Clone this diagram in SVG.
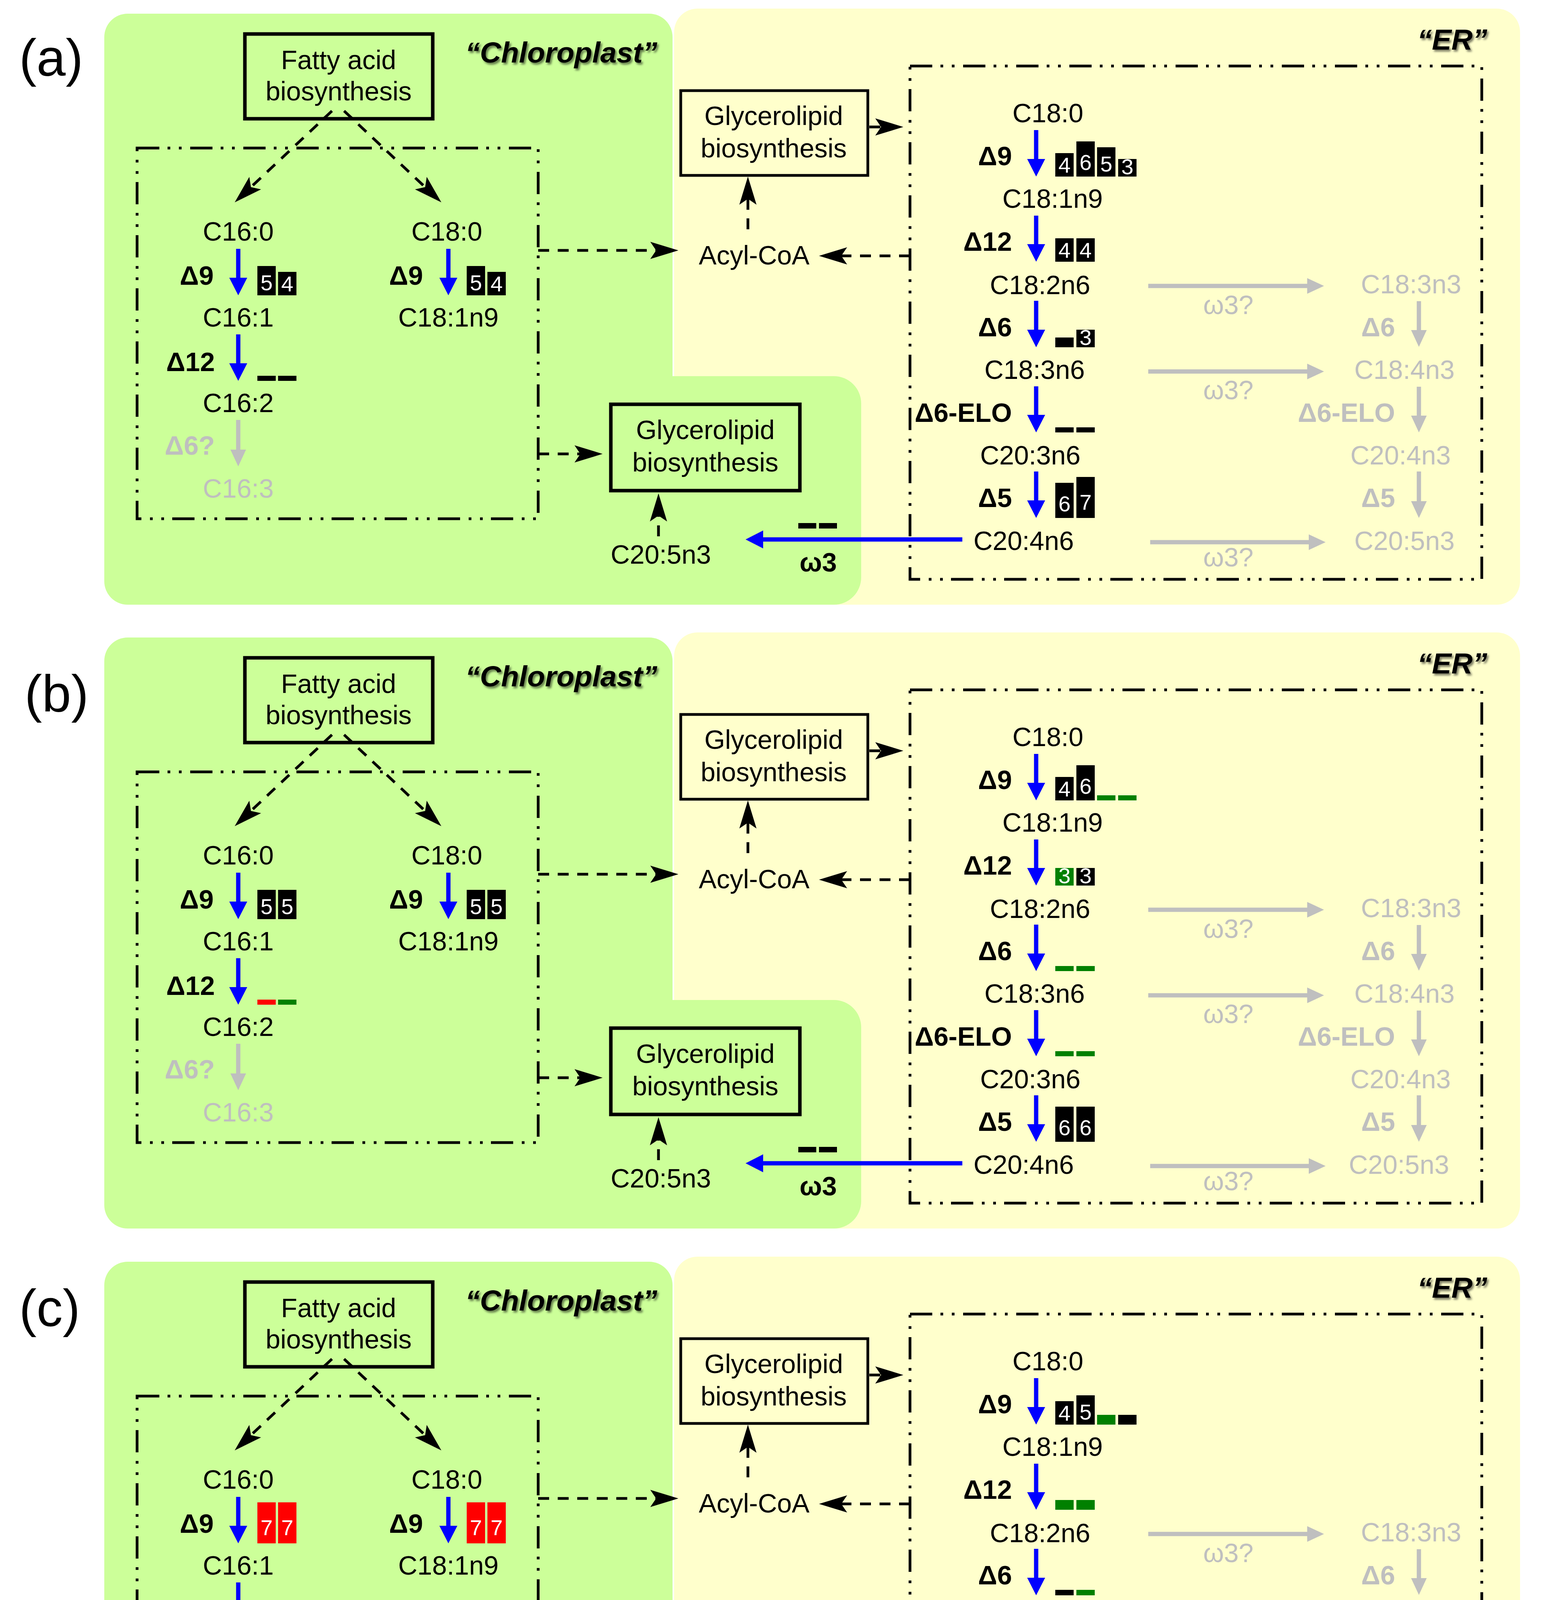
<svg xmlns="http://www.w3.org/2000/svg" width="3961" height="4811" viewBox="0 0 3961 4811">
<defs>
<style>
.ye{fill:#FFFFCC}
.gr{fill:#CCFF99}
.t{font-family:"Liberation Sans",Arial,sans-serif;font-size:68px;fill:#000}
.c{text-anchor:middle}
.e{text-anchor:end}
.b{font-weight:bold}
.gy{fill:#BFBFBF}
.lbl{font-size:134px}
.ttl{font-weight:bold;font-style:italic;font-size:75px;text-anchor:end;filter:url(#sh)}
.n{font-family:"Liberation Sans",Arial,sans-serif;font-size:56px;fill:#fff;text-anchor:middle}
.bx{fill:none;stroke:#000;stroke-width:9}
.bx2{fill:none;stroke:#000;stroke-width:7}
.dd{fill:none;stroke:#000;stroke-width:7;stroke-dasharray:57 21 7 22 7 22}
.da{fill:none;stroke:#000;stroke-width:7;stroke-dasharray:28 22;marker-end:url(#st)}
.bl{fill:none;stroke:#0000FF;stroke-width:11;marker-end:url(#ab)}
.ga{fill:none;stroke:#BFBFBF;stroke-width:11;marker-end:url(#ag)}
.k{fill:#000}
.g{fill:#008000}
.r{fill:#FF0000}
</style>
<filter id="sh" x="-10%" y="-40%" width="125%" height="190%">
<feDropShadow dx="4" dy="5" stdDeviation="2.5" flood-color="#000" flood-opacity="0.5"/>
</filter>
<marker id="st" markerUnits="userSpaceOnUse" viewBox="0 0 72 44" markerWidth="72" markerHeight="44" refX="15" refY="22" orient="auto" overflow="visible">
<path d="M0,0 L72,22 L0,44 L15,22 Z" fill="#000"/>
</marker>
<marker id="ab" markerUnits="userSpaceOnUse" viewBox="0 0 46 48" markerWidth="46" markerHeight="48" refX="0" refY="24" orient="auto" overflow="visible">
<path d="M0,1 L45,24 L0,47 Z" fill="#0000FF"/>
</marker>
<marker id="ag" markerUnits="userSpaceOnUse" viewBox="0 0 44 48" markerWidth="44" markerHeight="48" refX="0" refY="24" orient="auto" overflow="visible">
<path d="M0,4 L43,24 L0,44 Z" fill="#BFBFBF"/>
</marker>
</defs>
<rect x="0" y="0" width="3961" height="4811" fill="#fff"/>

<!-- ================= PANEL A ================= -->
<g id="panel-a">
<g id="a-compartments">
<rect class="ye" x="1726" y="22" width="2166" height="1526" rx="60"/>
<rect class="gr" x="267" y="35" width="1455" height="1513" rx="60"/>
<rect class="gr" x="1500" y="963" width="705" height="585" rx="70"/>
<text class="t lbl" x="49" y="194">(a)</text>
<text class="t ttl" x="1683" y="160">“Chloroplast”</text>
<text class="t ttl" x="3808" y="127">“ER”</text>
<rect class="dd" x="351" y="379" width="1027" height="949"/>
<rect class="dd" x="2330" y="169" width="1464" height="1314"/>
</g>
<g id="a-fatty"><rect class="bx" x="627" y="87" width="481" height="217"/><text class="t c" x="867" y="177">Fatty acid</text><text class="t c" x="867" y="257">biosynthesis</text></g>
<g id="a-glyc-er"><rect class="bx2" x="1743" y="232" width="479" height="217"/><text class="t c" x="1981" y="320">Glycerolipid</text><text class="t c" x="1981" y="403">biosynthesis</text></g>
<g id="a-acylcoa"><text class="t c" x="1931" y="677">Acyl-CoA</text></g>
<g id="a-glyc-chl"><rect class="bx" x="1564" y="1035" width="484" height="221"/><text class="t c" x="1806" y="1124">Glycerolipid</text><text class="t c" x="1806" y="1207">biosynthesis</text></g>
<g id="a-c205n3-chl"><text class="t c" x="1692" y="1443">C20:5n3</text></g>
<g id="a-c160"><text class="t c" x="610" y="616">C16:0</text></g>
<g id="a-c161"><text class="t c" x="610" y="836">C16:1</text></g>
<g id="a-c162"><text class="t c" x="610" y="1055">C16:2</text></g>
<g id="a-c163"><text class="t c gy" x="610" y="1274">C16:3</text></g>
<g id="a-c180-chl"><text class="t c" x="1144" y="616">C18:0</text></g>
<g id="a-c181-chl"><text class="t c" x="1148" y="836">C18:1n9</text></g>
<g id="a-c180"><text class="t c" x="2683" y="313">C18:0</text></g>
<g id="a-c181"><text class="t c" x="2695" y="532">C18:1n9</text></g>
<g id="a-c182"><text class="t c" x="2663" y="753">C18:2n6</text></g>
<g id="a-c183n6"><text class="t c" x="2649" y="970">C18:3n6</text></g>
<g id="a-c203n6"><text class="t c" x="2638" y="1189">C20:3n6</text></g>
<g id="a-c204n6"><text class="t c" x="2621" y="1408">C20:4n6</text></g>
<g id="a-c183n3"><text class="t c gy" x="3613" y="751">C18:3n3</text></g>
<g id="a-c184n3"><text class="t c gy" x="3596" y="970">C18:4n3</text></g>
<g id="a-c204n3"><text class="t c gy" x="3586" y="1189">C20:4n3</text></g>
<g id="a-c205n3"><text class="t c gy" x="3596" y="1408">C20:5n3</text></g>
<g id="a-connectors">
<path class="da" d="M850,284 L642.5,479"/>
<path class="da" d="M881,284 L1088.5,479"/>
<path class="da" d="M1378,641 H1680"/>
<path class="da" d="M1378,1162 H1486"/>
<path class="da" d="M1915,587 V509"/>
<path class="da" d="M2330,655 H2154"/>
<path class="da" d="M2226,325 H2256"/>
<path class="da" d="M1686,1373 V1320"/>
<path class="bl" d="M610,637 V711"/>
<path class="bl" d="M610,856 V930"/>
<path class="bl" d="M1148,637 V711"/>
<path class="ga" d="M610,1075 V1151"/>
<path class="bl" d="M2653,333 V407"/>
<path class="bl" d="M2653,552 V625"/>
<path class="bl" d="M2653,770 V844"/>
<path class="bl" d="M2653,989 V1062"/>
<path class="bl" d="M2653,1207 V1281"/>
<path class="bl" d="M2464,1381 H1954"/>
<path class="ga" d="M2940,732 H3347"/>
<path class="ga" d="M2940,951 H3347"/>
<path class="ga" d="M2945,1388 H3351"/>
<path class="ga" d="M3633,771 V845"/>
<path class="ga" d="M3633,990 V1064"/>
<path class="ga" d="M3633,1207 V1283"/>
</g>
<g id="a-enzymes">
<text class="t b e" x="547" y="729">Δ9</text>
<text class="t b e" x="550" y="950">Δ12</text>
<text class="t b e gy" x="550" y="1164">Δ6?</text>
<text class="t b e" x="1083" y="729">Δ9</text>
<text class="t b e" x="2591" y="423">Δ9</text>
<text class="t b e" x="2591" y="642">Δ12</text>
<text class="t b e" x="2591" y="861">Δ6</text>
<text class="t b e" x="2591" y="1080">Δ6-ELO</text>
<text class="t b e" x="2591" y="1298">Δ5</text>
<text class="t b c" x="2095" y="1463">ω3</text>
<text class="t b e gy" x="3572" y="861">Δ6</text>
<text class="t b e gy" x="3572" y="1080">Δ6-ELO</text>
<text class="t b e gy" x="3572" y="1298">Δ5</text>
<text class="t c gy" x="3145" y="804">ω3?</text>
<text class="t c gy" x="3145" y="1022">ω3?</text>
<text class="t c gy" x="3145" y="1450">ω3?</text>
</g>
<g id="a-bars">
<rect class="k" x="659" y="681" width="47" height="75"/><text class="n" x="682.5" y="743">5</text>
<rect class="k" x="712" y="696" width="47" height="60"/><text class="n" x="735.5" y="746">4</text>
<rect class="k" x="1195" y="681" width="47" height="75"/><text class="n" x="1218.5" y="743">5</text>
<rect class="k" x="1248" y="696" width="47" height="60"/><text class="n" x="1271.5" y="746">4</text>
<rect class="k" x="659" y="962" width="47" height="13"/><rect class="k" x="712" y="962" width="47" height="13"/>
<rect class="k" x="2702" y="392" width="47" height="60"/><text class="n" x="2725.5" y="442">4</text>
<rect class="k" x="2756" y="362" width="47" height="90"/><text class="n" x="2779.5" y="435">6</text>
<rect class="k" x="2809" y="377" width="47" height="75"/><text class="n" x="2832.5" y="439">5</text>
<rect class="k" x="2863" y="407" width="47" height="45"/><text class="n" x="2886.5" y="446">3</text>
<rect class="k" x="2702" y="610" width="47" height="60"/><text class="n" x="2725.5" y="660">4</text>
<rect class="k" x="2756" y="610" width="47" height="60"/><text class="n" x="2779.5" y="660">4</text>
<rect class="k" x="2702" y="864" width="47" height="25"/>
<rect class="k" x="2756" y="844" width="47" height="45"/><text class="n" x="2779.5" y="883">3</text>
<rect class="k" x="2702" y="1094" width="47" height="13"/><rect class="k" x="2756" y="1094" width="47" height="13"/>
<rect class="k" x="2702" y="1236" width="47" height="90"/><text class="n" x="2725.5" y="1309">6</text>
<rect class="k" x="2756" y="1221" width="47" height="105"/><text class="n" x="2779.5" y="1305">7</text>
<rect class="k" x="2044" y="1339" width="46" height="14"/><rect class="k" x="2097" y="1339" width="46" height="14"/>
</g>
</g>

<!-- ================= PANEL B ================= -->
<g id="panel-b">
<g id="b-compartments">
<rect class="ye" x="1726" y="1619" width="2166" height="1526" rx="60"/>
<rect class="gr" x="267" y="1632" width="1455" height="1513" rx="60"/>
<rect class="gr" x="1500" y="2560" width="705" height="585" rx="70"/>
<text class="t lbl" x="63" y="1822">(b)</text>
<text class="t ttl" x="1683" y="1757">“Chloroplast”</text>
<text class="t ttl" x="3808" y="1724">“ER”</text>
<rect class="dd" x="351" y="1976" width="1027" height="949"/>
<rect class="dd" x="2330" y="1766" width="1464" height="1314"/>
</g>
<g id="b-fatty"><rect class="bx" x="627" y="1684" width="481" height="217"/><text class="t c" x="867" y="1774">Fatty acid</text><text class="t c" x="867" y="1854">biosynthesis</text></g>
<g id="b-glyc-er"><rect class="bx2" x="1743" y="1829" width="479" height="217"/><text class="t c" x="1981" y="1917">Glycerolipid</text><text class="t c" x="1981" y="2000">biosynthesis</text></g>
<g id="b-acylcoa"><text class="t c" x="1931" y="2274">Acyl-CoA</text></g>
<g id="b-glyc-chl"><rect class="bx" x="1564" y="2632" width="484" height="221"/><text class="t c" x="1806" y="2721">Glycerolipid</text><text class="t c" x="1806" y="2804">biosynthesis</text></g>
<g id="b-c205n3-chl"><text class="t c" x="1692" y="3040">C20:5n3</text></g>
<g id="b-c160"><text class="t c" x="610" y="2213">C16:0</text></g>
<g id="b-c161"><text class="t c" x="610" y="2433">C16:1</text></g>
<g id="b-c162"><text class="t c" x="610" y="2652">C16:2</text></g>
<g id="b-c163"><text class="t c gy" x="610" y="2871">C16:3</text></g>
<g id="b-c180-chl"><text class="t c" x="1144" y="2213">C18:0</text></g>
<g id="b-c181-chl"><text class="t c" x="1148" y="2433">C18:1n9</text></g>
<g id="b-c180"><text class="t c" x="2683" y="1910">C18:0</text></g>
<g id="b-c181"><text class="t c" x="2695" y="2129">C18:1n9</text></g>
<g id="b-c182"><text class="t c" x="2663" y="2350">C18:2n6</text></g>
<g id="b-c183n6"><text class="t c" x="2649" y="2567">C18:3n6</text></g>
<g id="b-c203n6"><text class="t c" x="2638" y="2786">C20:3n6</text></g>
<g id="b-c204n6"><text class="t c" x="2621" y="3005">C20:4n6</text></g>
<g id="b-c183n3"><text class="t c gy" x="3613" y="2348">C18:3n3</text></g>
<g id="b-c184n3"><text class="t c gy" x="3596" y="2567">C18:4n3</text></g>
<g id="b-c204n3"><text class="t c gy" x="3586" y="2786">C20:4n3</text></g>
<g id="b-c205n3"><text class="t c gy" x="3582" y="3005">C20:5n3</text></g>
<g id="b-connectors">
<path class="da" d="M850,1881 L642.5,2076"/>
<path class="da" d="M881,1881 L1088.5,2076"/>
<path class="da" d="M1378,2238 H1680"/>
<path class="da" d="M1378,2759 H1486"/>
<path class="da" d="M1915,2184 V2106"/>
<path class="da" d="M2330,2252 H2154"/>
<path class="da" d="M2226,1922 H2256"/>
<path class="da" d="M1686,2970 V2917"/>
<path class="bl" d="M610,2234 V2308"/>
<path class="bl" d="M610,2453 V2527"/>
<path class="bl" d="M1148,2234 V2308"/>
<path class="ga" d="M610,2672 V2748"/>
<path class="bl" d="M2653,1930 V2004"/>
<path class="bl" d="M2653,2149 V2222"/>
<path class="bl" d="M2653,2367 V2441"/>
<path class="bl" d="M2653,2586 V2659"/>
<path class="bl" d="M2653,2804 V2878"/>
<path class="bl" d="M2464,2978 H1954"/>
<path class="ga" d="M2940,2329 H3347"/>
<path class="ga" d="M2940,2548 H3347"/>
<path class="ga" d="M2945,2985 H3351"/>
<path class="ga" d="M3633,2368 V2442"/>
<path class="ga" d="M3633,2587 V2661"/>
<path class="ga" d="M3633,2804 V2880"/>
</g>
<g id="b-enzymes">
<text class="t b e" x="547" y="2326">Δ9</text>
<text class="t b e" x="550" y="2547">Δ12</text>
<text class="t b e gy" x="550" y="2761">Δ6?</text>
<text class="t b e" x="1083" y="2326">Δ9</text>
<text class="t b e" x="2591" y="2020">Δ9</text>
<text class="t b e" x="2591" y="2239">Δ12</text>
<text class="t b e" x="2591" y="2458">Δ6</text>
<text class="t b e" x="2591" y="2677">Δ6-ELO</text>
<text class="t b e" x="2591" y="2895">Δ5</text>
<text class="t b c" x="2095" y="3060">ω3</text>
<text class="t b e gy" x="3572" y="2458">Δ6</text>
<text class="t b e gy" x="3572" y="2677">Δ6-ELO</text>
<text class="t b e gy" x="3572" y="2895">Δ5</text>
<text class="t c gy" x="3145" y="2401">ω3?</text>
<text class="t c gy" x="3145" y="2619">ω3?</text>
<text class="t c gy" x="3145" y="3047">ω3?</text>
</g>
<g id="b-bars">
<rect class="k" x="659" y="2278" width="47" height="75"/><text class="n" x="682.5" y="2340">5</text>
<rect class="k" x="712" y="2278" width="47" height="75"/><text class="n" x="735.5" y="2340">5</text>
<rect class="k" x="1195" y="2278" width="47" height="75"/><text class="n" x="1218.5" y="2340">5</text>
<rect class="k" x="1248" y="2278" width="47" height="75"/><text class="n" x="1271.5" y="2340">5</text>
<rect class="r" x="659" y="2559" width="47" height="13"/><rect class="g" x="712" y="2559" width="47" height="13"/>
<rect class="k" x="2702" y="1989" width="47" height="60"/><text class="n" x="2725.5" y="2039">4</text>
<rect class="k" x="2756" y="1959" width="47" height="90"/><text class="n" x="2779.5" y="2032">6</text>
<rect class="g" x="2809" y="2036" width="47" height="13"/><rect class="g" x="2863" y="2036" width="47" height="13"/>
<rect class="g" x="2702" y="2222" width="47" height="45"/><text class="n" x="2725.5" y="2261">3</text>
<rect class="k" x="2756" y="2222" width="47" height="45"/><text class="n" x="2779.5" y="2261">3</text>
<rect class="g" x="2702" y="2473" width="47" height="13"/><rect class="g" x="2756" y="2473" width="47" height="13"/>
<rect class="g" x="2702" y="2691" width="47" height="13"/><rect class="g" x="2756" y="2691" width="47" height="13"/>
<rect class="k" x="2702" y="2833" width="47" height="90"/><text class="n" x="2725.5" y="2906">6</text>
<rect class="k" x="2756" y="2833" width="47" height="90"/><text class="n" x="2779.5" y="2906">6</text>
<rect class="k" x="2044" y="2936" width="46" height="14"/><rect class="k" x="2097" y="2936" width="46" height="14"/>
</g>
</g>

<!-- ================= PANEL C ================= -->
<g id="panel-c">
<g id="c-compartments">
<rect class="ye" x="1726" y="3217" width="2166" height="1526" rx="60"/>
<rect class="gr" x="267" y="3230" width="1455" height="1513" rx="60"/>
<rect class="gr" x="1500" y="4158" width="705" height="585" rx="70"/>
<text class="t lbl" x="49" y="3395">(c)</text>
<text class="t ttl" x="1683" y="3355">“Chloroplast”</text>
<text class="t ttl" x="3808" y="3322">“ER”</text>
<rect class="dd" x="351" y="3574" width="1027" height="949"/>
<rect class="dd" x="2330" y="3364" width="1464" height="1314"/>
</g>
<g id="c-fatty"><rect class="bx" x="627" y="3282" width="481" height="217"/><text class="t c" x="867" y="3372">Fatty acid</text><text class="t c" x="867" y="3452">biosynthesis</text></g>
<g id="c-glyc-er"><rect class="bx2" x="1743" y="3427" width="479" height="217"/><text class="t c" x="1981" y="3515">Glycerolipid</text><text class="t c" x="1981" y="3598">biosynthesis</text></g>
<g id="c-acylcoa"><text class="t c" x="1931" y="3872">Acyl-CoA</text></g>
<g id="c-glyc-chl"><rect class="bx" x="1564" y="4230" width="484" height="221"/><text class="t c" x="1806" y="4319">Glycerolipid</text><text class="t c" x="1806" y="4402">biosynthesis</text></g>
<g id="c-c205n3-chl"><text class="t c" x="1692" y="4638">C20:5n3</text></g>
<g id="c-c160"><text class="t c" x="610" y="3811">C16:0</text></g>
<g id="c-c161"><text class="t c" x="610" y="4031">C16:1</text></g>
<g id="c-c162"><text class="t c" x="610" y="4250">C16:2</text></g>
<g id="c-c163"><text class="t c gy" x="610" y="4469">C16:3</text></g>
<g id="c-c180-chl"><text class="t c" x="1144" y="3811">C18:0</text></g>
<g id="c-c181-chl"><text class="t c" x="1148" y="4031">C18:1n9</text></g>
<g id="c-c180"><text class="t c" x="2683" y="3508">C18:0</text></g>
<g id="c-c181"><text class="t c" x="2695" y="3727">C18:1n9</text></g>
<g id="c-c182"><text class="t c" x="2663" y="3948">C18:2n6</text></g>
<g id="c-c183n6"><text class="t c" x="2649" y="4165">C18:3n6</text></g>
<g id="c-c203n6"><text class="t c" x="2638" y="4384">C20:3n6</text></g>
<g id="c-c204n6"><text class="t c" x="2621" y="4603">C20:4n6</text></g>
<g id="c-c183n3"><text class="t c gy" x="3613" y="3946">C18:3n3</text></g>
<g id="c-c184n3"><text class="t c gy" x="3598" y="4165">C18:4n3</text></g>
<g id="c-c204n3"><text class="t c gy" x="3588" y="4384">C20:4n3</text></g>
<g id="c-c205n3"><text class="t c gy" x="3586" y="4603">C20:5n3</text></g>
<g id="c-connectors">
<path class="da" d="M850,3479 L642.5,3674"/>
<path class="da" d="M881,3479 L1088.5,3674"/>
<path class="da" d="M1378,3836 H1680"/>
<path class="da" d="M1378,4357 H1486"/>
<path class="da" d="M1915,3782 V3704"/>
<path class="da" d="M2330,3850 H2154"/>
<path class="da" d="M2226,3520 H2256"/>
<path class="da" d="M1686,4568 V4515"/>
<path class="bl" d="M610,3832 V3906"/>
<path class="bl" d="M610,4051 V4125"/>
<path class="bl" d="M1148,3832 V3906"/>
<path class="ga" d="M610,4270 V4346"/>
<path class="bl" d="M2653,3528 V3602"/>
<path class="bl" d="M2653,3747 V3820"/>
<path class="bl" d="M2653,3965 V4039"/>
<path class="bl" d="M2653,4184 V4257"/>
<path class="bl" d="M2653,4402 V4476"/>
<path class="bl" d="M2464,4576 H1954"/>
<path class="ga" d="M2940,3927 H3347"/>
<path class="ga" d="M2940,4146 H3347"/>
<path class="ga" d="M2945,4583 H3351"/>
<path class="ga" d="M3633,3966 V4040"/>
<path class="ga" d="M3633,4185 V4259"/>
<path class="ga" d="M3633,4402 V4478"/>
</g>
<g id="c-enzymes">
<text class="t b e" x="547" y="3924">Δ9</text>
<text class="t b e" x="550" y="4145">Δ12</text>
<text class="t b e gy" x="550" y="4359">Δ6?</text>
<text class="t b e" x="1083" y="3924">Δ9</text>
<text class="t b e" x="2591" y="3618">Δ9</text>
<text class="t b e" x="2591" y="3837">Δ12</text>
<text class="t b e" x="2591" y="4056">Δ6</text>
<text class="t b e" x="2591" y="4275">Δ6-ELO</text>
<text class="t b e" x="2591" y="4493">Δ5</text>
<text class="t b c" x="2095" y="4658">ω3</text>
<text class="t b e gy" x="3572" y="4056">Δ6</text>
<text class="t b e gy" x="3572" y="4275">Δ6-ELO</text>
<text class="t b e gy" x="3572" y="4493">Δ5</text>
<text class="t c gy" x="3145" y="3999">ω3?</text>
<text class="t c gy" x="3145" y="4217">ω3?</text>
<text class="t c gy" x="3145" y="4645">ω3?</text>
</g>
<g id="c-bars">
<rect class="r" x="659" y="3846" width="47" height="105"/><text class="n" x="682.5" y="3930">7</text>
<rect class="r" x="712" y="3846" width="47" height="105"/><text class="n" x="735.5" y="3930">7</text>
<rect class="r" x="1195" y="3846" width="47" height="105"/><text class="n" x="1218.5" y="3930">7</text>
<rect class="r" x="1248" y="3846" width="47" height="105"/><text class="n" x="1271.5" y="3930">7</text>
<rect class="r" x="659" y="4157" width="47" height="13"/><rect class="g" x="712" y="4157" width="47" height="13"/>
<rect class="k" x="2702" y="3587" width="47" height="60"/><text class="n" x="2725.5" y="3637">4</text>
<rect class="k" x="2756" y="3572" width="47" height="75"/><text class="n" x="2779.5" y="3634">5</text>
<rect class="g" x="2809" y="3622" width="47" height="25"/><rect class="k" x="2863" y="3622" width="47" height="25"/>
<rect class="g" x="2702" y="3840" width="47" height="25"/><rect class="g" x="2756" y="3840" width="47" height="25"/>
<rect class="k" x="2702" y="4070" width="47" height="14"/><rect class="g" x="2756" y="4070" width="47" height="14"/>
<rect class="k" x="2702" y="4289" width="47" height="13"/><rect class="k" x="2756" y="4289" width="47" height="13"/>
<rect class="g" x="2702" y="4446" width="47" height="75"/><text class="n" x="2725.5" y="4508">5</text>
<rect class="g" x="2756" y="4446" width="47" height="75"/><text class="n" x="2779.5" y="4508">5</text>
<rect class="k" x="2044" y="4534" width="46" height="14"/><rect class="k" x="2097" y="4534" width="46" height="14"/>
</g>
</g>
</svg>
